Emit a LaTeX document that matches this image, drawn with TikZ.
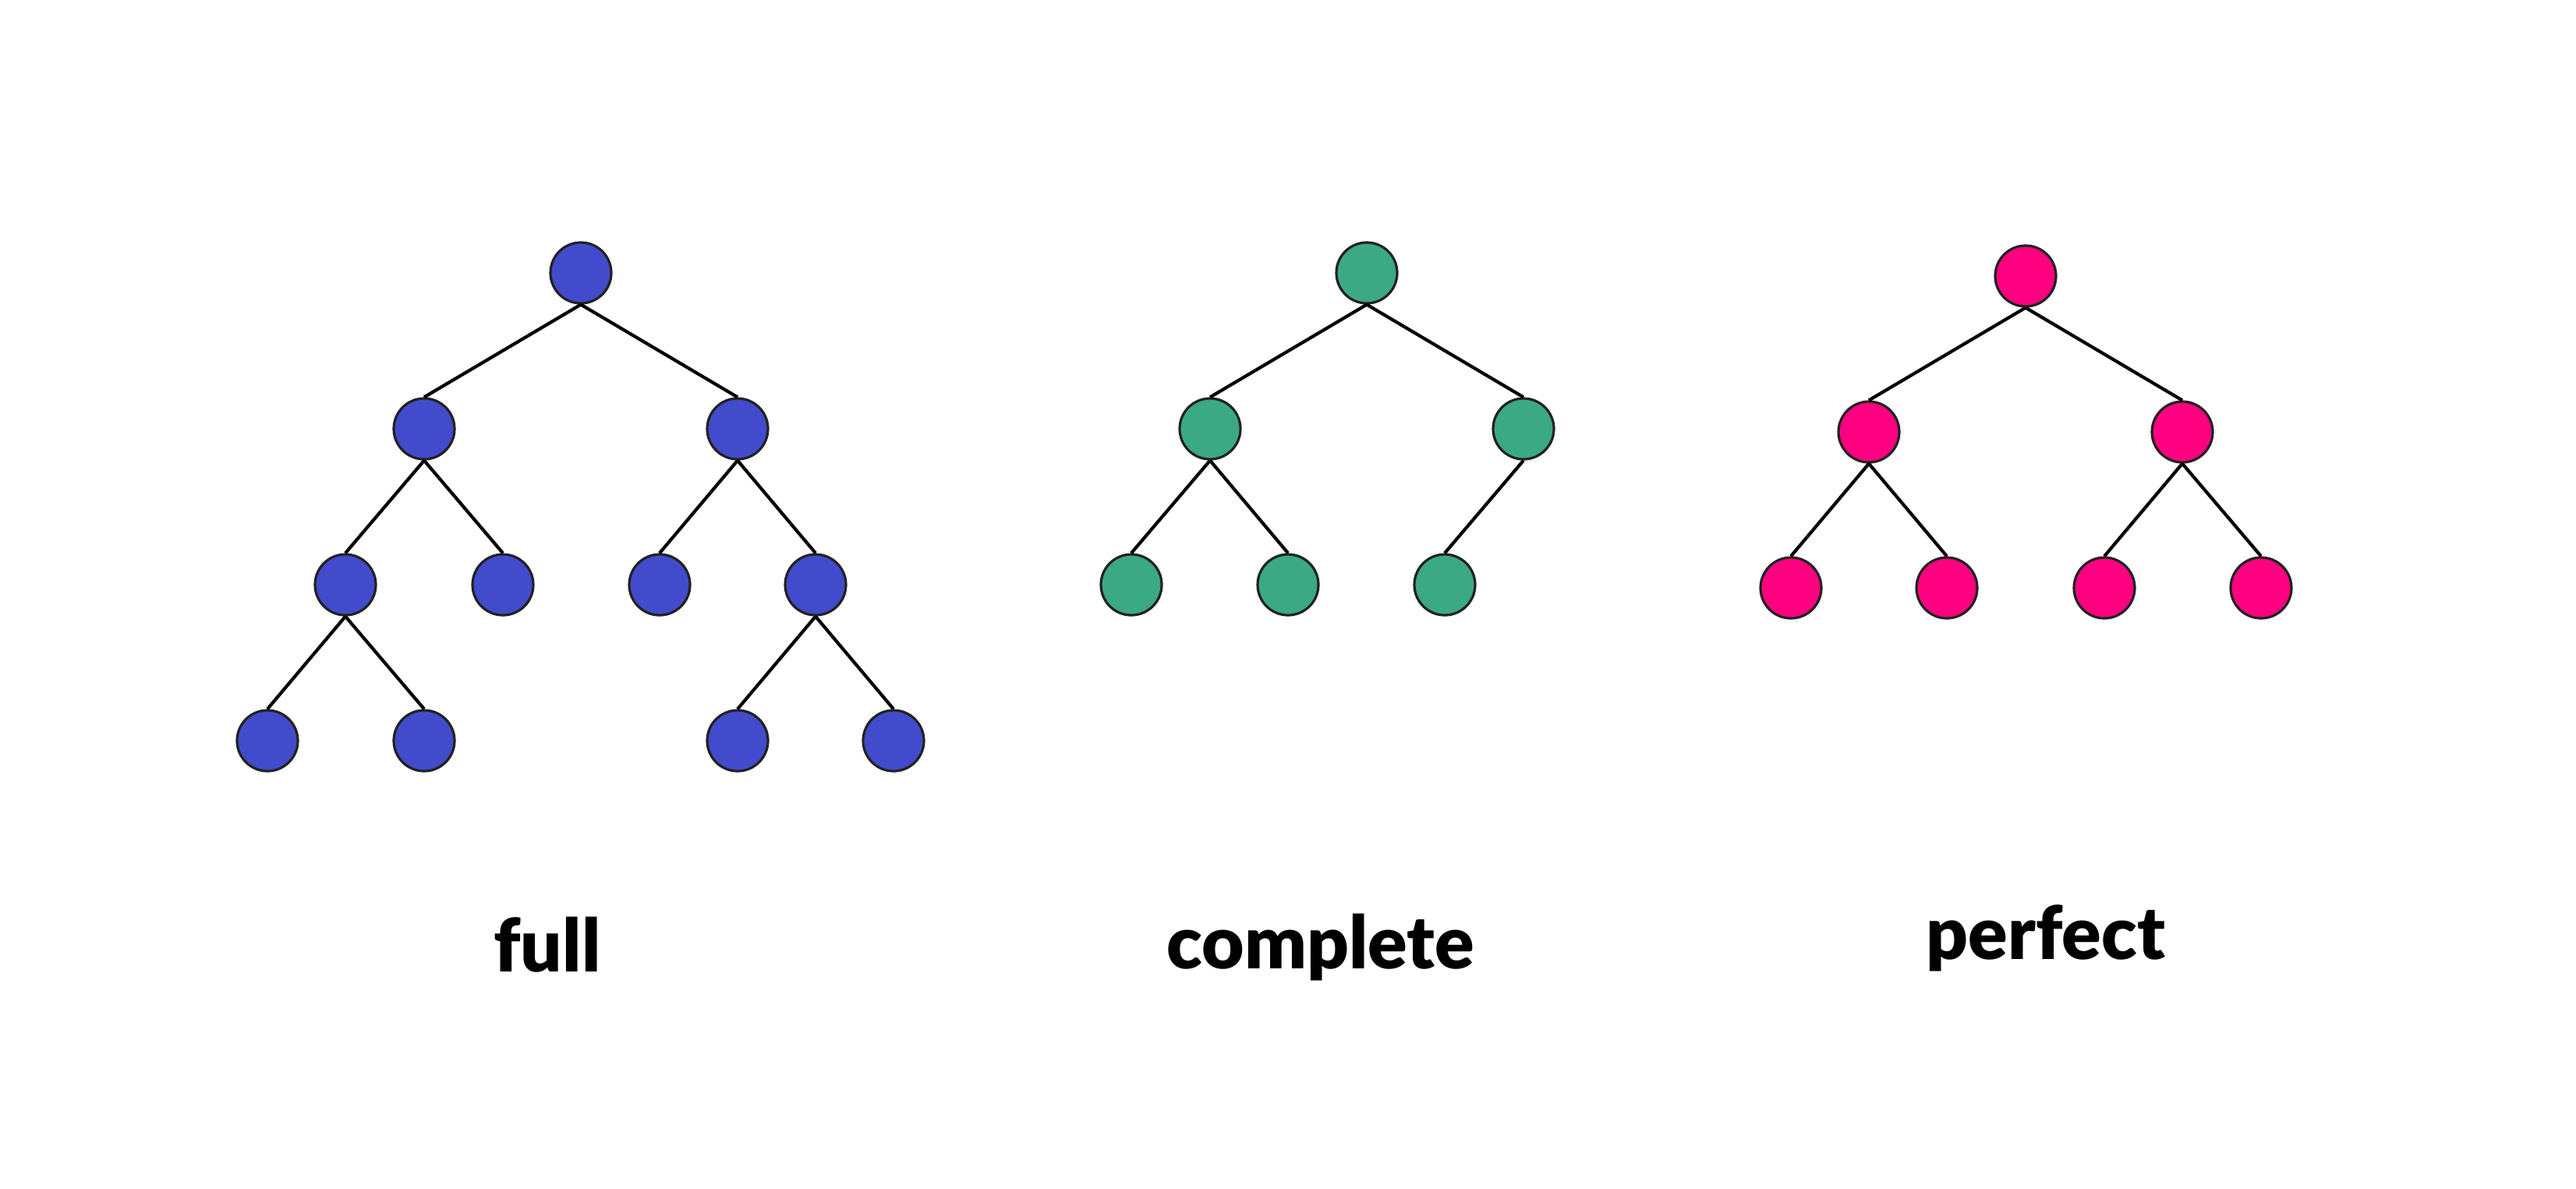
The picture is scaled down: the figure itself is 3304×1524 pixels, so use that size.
\documentclass[tikz,border=0pt]{standalone}
\usepackage{fontspec}
\newfontfamily\labelfont{Lato}[BoldFont={Lato Black}]
\definecolor{cblue}{RGB}{65,75,204}
\definecolor{cgreen}{RGB}{58,169,132}
\definecolor{cpink}{RGB}{255,0,128}
\definecolor{cedge}{RGB}{34,34,34}
\begin{document}
\begin{tikzpicture}[x=0.25pt,y=-0.25pt,
  vtx/.style={circle,draw=cedge,line width=0.8pt,minimum size=19.5pt,inner sep=0pt},
  bv/.style={vtx,fill=cblue},
  gv/.style={vtx,fill=cgreen},
  pv/.style={vtx,fill=cpink},
  edge/.style={draw=black,line width=1.05pt},
  lbl/.style={font=\labelfont\bfseries\fontsize{23.5}{23.5}\selectfont,anchor=base,inner sep=0pt}]
\useasboundingbox (0,0) rectangle (3304,1524);
% full
\node[bv] (f0) at (745,350) {};
\node[bv] (f1) at (544,550) {};
\node[bv] (f2) at (946,550) {};
\node[bv] (f3) at (443,750) {};
\node[bv] (f4) at (645,750) {};
\node[bv] (f5) at (846,750) {};
\node[bv] (f6) at (1046,750) {};
\node[bv] (f7) at (343,950) {};
\node[bv] (f8) at (544,950) {};
\node[bv] (f9) at (946,950) {};
\node[bv] (f10) at (1146,950) {};
% complete
\node[gv] (c0) at (1753,350) {};
\node[gv] (c1) at (1552,550) {};
\node[gv] (c2) at (1954,550) {};
\node[gv] (c3) at (1451,750) {};
\node[gv] (c4) at (1652,750) {};
\node[gv] (c5) at (1853,750) {};
% perfect
\node[pv] (p0) at (2598,354) {};
\node[pv] (p1) at (2397,554) {};
\node[pv] (p2) at (2799,554) {};
\node[pv] (p3) at (2297,754) {};
\node[pv] (p4) at (2497,754) {};
\node[pv] (p5) at (2699,754) {};
\node[pv] (p6) at (2900,754) {};
% edges
\foreach \a/\b in {f0/f1,f0/f2,f1/f3,f1/f4,f2/f5,f2/f6,f3/f7,f3/f8,f6/f9,f6/f10,
                   c0/c1,c0/c2,c1/c3,c1/c4,c2/c5,
                   p0/p1,p0/p2,p1/p3,p1/p4,p2/p5,p2/p6}
  \draw[edge] (\a.south) -- (\b.north);
% labels
\node[lbl] (lf) at (702,1246) {full};
\node[lbl] (lc) at (1694,1242) {complete};
\node[lbl] (lp) at (2624,1230) {perfect};
\end{tikzpicture}
\end{document}
